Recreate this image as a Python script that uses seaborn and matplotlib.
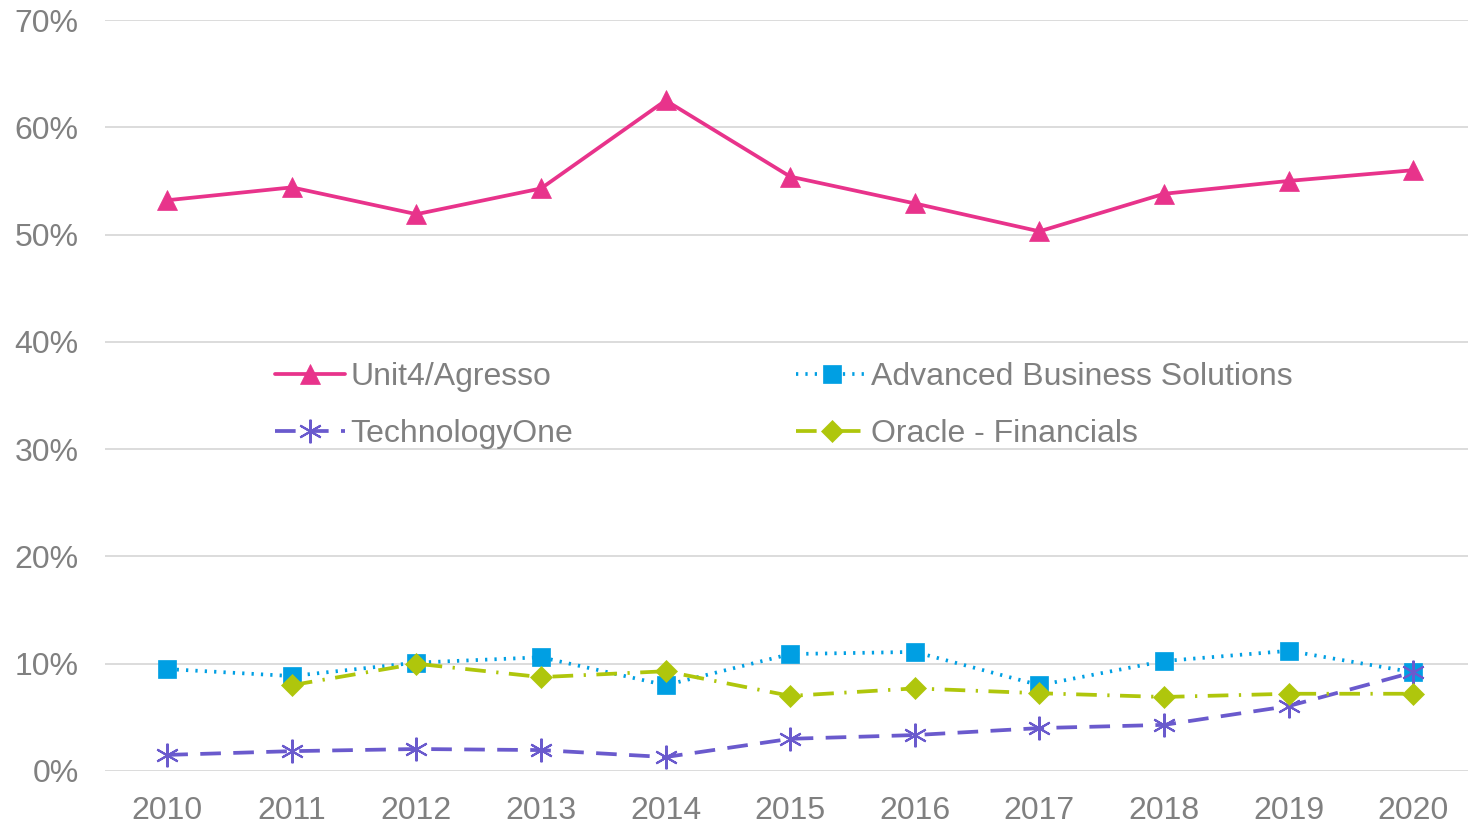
import numpy as np
import pandas as pd
import matplotlib
matplotlib.use("Agg")
import matplotlib.pyplot as plt
import seaborn as sns
from matplotlib.ticker import FuncFormatter

years = [2010, 2011, 2012, 2013, 2014, 2015, 2016, 2017, 2018, 2019, 2020]
unit4 = [53.2, 54.4, 51.9, 54.3, 62.5, 55.4, 52.9, 50.3, 53.8, 55.0, 56.0]
abs_sol = [9.5, 8.85, 10.1, 10.6, 8.0, 10.9, 11.1, 8.0, 10.25, 11.2, 9.2]
tech_one = [1.5, 1.85, 2.05, 1.95, 1.3, 3.0, 3.35, 4.0, 4.3, 6.05, 9.2]
oracle = [np.nan, 8.0, 10.0, 8.75, 9.3, 7.0, 7.7, 7.25, 6.9, 7.2, 7.2]

series_names = ["Unit4/Agresso", "Advanced Business Solutions", "TechnologyOne", "Oracle - Financials"]
series_values = [unit4, abs_sol, tech_one, oracle]
colors = ["#E8338B", "#009FE3", "#6A5ACD", "#AFC60C"]
markers = ["^", "s", (6, 2, 0), "D"]
styles = ["-", (0, (0.6, 1.9)), (0, (5.5, 3.3)), (0, (5.5, 2.8, 0.6, 2.8))]
msizes = [14, 13, 17, 11.5]

sns.set_theme(style="white")
plt.rcParams["font.family"] = ["Liberation Sans", "DejaVu Sans"]

fig = plt.figure(figsize=(14.68, 8.24), dpi=100)
ax = fig.add_axes([105 / 1468, 1 - 771 / 824, (1468 - 105) / 1468, (771 - 20) / 824])

xpos = np.arange(len(years))
for name, vals, c, m, ls, ms in zip(series_names, series_values, colors, markers, styles, msizes):
    df = pd.DataFrame({"x": xpos, "y": vals}).dropna()
    sns.lineplot(data=df, x="x", y="y", ax=ax, color=c, linewidth=2.7, linestyle=ls,
                 marker=m, markersize=ms, markeredgecolor=c, markerfacecolor=c,
                 markeredgewidth=1.5 if m == (6, 2, 0) else 0.5, label=name)

ax.set_ylim(0, 70)
ax.set_xlim(-0.5, 10.44)
ax.set_yticks(np.arange(0, 71, 10))
ax.yaxis.set_major_formatter(FuncFormatter(lambda v, p: f"{int(v)}%"))
ax.set_xticks(xpos)
ax.set_xticklabels([str(y) for y in years])
ax.grid(axis="y", color="#D9D9D9", linewidth=1.3)
ax.grid(axis="x", visible=False)
for s in ax.spines.values():
    s.set_visible(False)
ax.tick_params(axis="both", colors="#808080", labelsize=23, length=0)
ax.tick_params(axis="x", pad=18)
ax.tick_params(axis="y", pad=19)
ax.set_xlabel("")
ax.set_ylabel("")

h, l = ax.get_legend_handles_labels()
order = [0, 2, 1, 3]
leg = ax.legend([h[i] for i in order], [l[i] for i in order],
                loc="center left", bbox_to_anchor=(0.1247, 0.4867), ncol=2, frameon=False,
                fontsize=23, handlelength=2.2, handletextpad=0.15, columnspacing=7.0,
                labelspacing=0.85, borderpad=0, borderaxespad=0)
for t in leg.get_texts():
    t.set_color("#808080")

fig.savefig("out.png", dpi=100)
